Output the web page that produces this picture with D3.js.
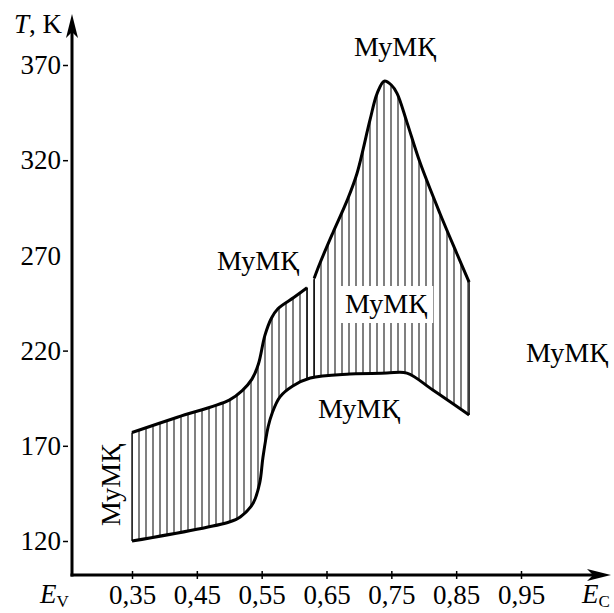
<!DOCTYPE html>
<html lang="ru">

<head>
    <meta charset="utf-8">
    <title>T(E)</title>
    <script src="https://d3js.org/d3.v7.min.js"></script>
    <style>
        body { margin: 0; background: #fff; }
        text { font-family: "Liberation Serif", "Times New Roman", serif; fill: #000; }
    </style>
</head>

<body>
    <div id="dataviz"></div>
    <script>

        // energy ticks (E) and temperature ticks (T, K)
        var eTicks = [0.35, 0.45, 0.55, 0.65, 0.75, 0.85, 0.95];
        var tTicks = [120, 170, 220, 270, 320, 370];

        // upper boundary, left part
        var upperLeftE = [0.35, 0.42, 0.50, 0.52, 0.535, 0.545, 0.555, 0.565, 0.575, 0.60, 0.62];
        var upperLeftT = [177, 185, 194, 199, 205, 213, 228, 237, 242, 248, 253];

        // upper boundary, right part (the peak)
        var upperRightE = [0.631, 0.64, 0.66, 0.682, 0.697, 0.717, 0.728, 0.739, 0.75, 0.759, 0.774, 0.794, 0.825, 0.851, 0.87];
        var upperRightT = [258, 266, 282, 299, 313, 341, 355, 361.5, 359.5, 355, 340, 319, 292, 271, 256];

        // lower boundary
        var lowerE = [0.35, 0.50, 0.517, 0.537, 0.547, 0.552, 0.56, 0.566, 0.578, 0.598, 0.625, 0.686, 0.743, 0.774, 0.814, 0.87];
        var lowerT = [120, 130, 132.6, 140, 150.5, 164, 180, 187, 195.6, 201.4, 205.6, 207.7, 208.2, 208.2, 199.3, 186.2];

        // the two inner edges where the upper curve breaks
        var breakE = [0.62, 0.631];
        var breakBottomT = [205.4, 205.9];

        var label = "МуМҚ";

        var width = 614, height = 613;

        var svg = d3.select("#dataviz")
            .append("svg")
            .attr("width", width)
            .attr("height", height);

        var x = d3.scaleLinear().domain([0.35, 0.95]).range([132, 521]);
        var y = d3.scaleLinear().domain([120, 370]).range([541, 65]);

        var zip = function (es, ts) { return es.map(function (e, i) { return [e, ts[i]]; }); };
        var upperLeft = zip(upperLeftE, upperLeftT);
        var upperRight = zip(upperRightE, upperRightT);
        var lower = zip(lowerE, lowerT);

        var line = d3.line()
            .x(function (d) { return x(d[0]); })
            .y(function (d) { return y(d[1]); })
            .curve(d3.curveCatmullRom.alpha(0.5));

        // hatch pattern
        var pat = svg.append("defs").append("pattern")
            .attr("id", "hatch")
            .attr("patternUnits", "userSpaceOnUse")
            .attr("width", 7).attr("height", 10)
            .attr("patternTransform", "translate(" + (x(0.35) - 0.5) + ",0)");
        pat.append("rect").attr("x", 0).attr("y", 0).attr("width", 1).attr("height", 10).attr("fill", "#000");

        var areaD = line(upperLeft.concat(upperRight)) +
            line(lower.slice().reverse()).replace(/^M/, "L") + "Z";
        svg.append("path")
            .attr("d", areaD)
            .attr("fill", "url(#hatch)")
            .attr("stroke", "none");

        // edges
        var edges = [
            [lower[0], upperLeft[0]],
            [lower[lower.length - 1], upperRight[upperRight.length - 1]],
            [[breakE[0], breakBottomT[0]], upperLeft[upperLeft.length - 1]],
            [[breakE[1], breakBottomT[1]], upperRight[0]]
        ];
        svg.selectAll("edgeLines")
            .data(edges)
            .enter()
            .append("line")
            .attr("x1", function (d) { return x(d[0][0]); })
            .attr("x2", function (d) { return x(d[1][0]); })
            .attr("y1", function (d) { return y(d[0][1]); })
            .attr("y2", function (d) { return y(d[1][1]); })
            .attr("stroke", "#000")
            .attr("stroke-width", 1.3);

        // boundary curves
        svg.selectAll("curves")
            .data([upperLeft, upperRight, lower])
            .enter()
            .append("path")
            .attr("d", function (d) { return line(d); })
            .attr("fill", "none")
            .attr("stroke", "#000")
            .attr("stroke-width", 3);

        // axes
        var fmt = d3.formatLocale({ decimal: ",", thousands: " ", grouping: [3], currency: ["", ""] }).format(".2f");

        var xAxis = svg.append("g")
            .attr("transform", "translate(0,575)")
            .call(d3.axisBottom(x).tickValues(eTicks).tickSize(4).tickPadding(6).tickFormat(fmt));
        xAxis.select(".domain").remove();
        xAxis.selectAll(".tick line").attr("y1", -4).attr("stroke-width", 1.5);
        xAxis.selectAll("text").attr("font-size", 27);

        var yAxis = svg.append("g")
            .attr("transform", "translate(68,0)")
            .call(d3.axisLeft(y).tickValues(tTicks).tickSize(5).tickPadding(2).tickFormat(d3.format("d")));
        yAxis.select(".domain").remove();
        yAxis.selectAll(".tick line").attr("stroke-width", 1.5)
            .filter(function (d) { return d === 270; }).remove();
        yAxis.selectAll("text").attr("font-size", 27);

        // axis lines with arrows
        svg.append("line").attr("x1", 72).attr("y1", 576.5).attr("x2", 72).attr("y2", 30)
            .attr("stroke", "#000").attr("stroke-width", 3);
        svg.append("line").attr("x1", 70.5).attr("y1", 575).attr("x2", 600).attr("y2", 575)
            .attr("stroke", "#000").attr("stroke-width", 3);
        svg.append("path").attr("d", "M72,14 L78,38 L72,32 L66,38 Z").attr("fill", "#000");
        svg.append("path").attr("d", "M611,575 L587,569 L593,575 L587,581 Z").attr("fill", "#000");

        // axis titles
        var tt = svg.append("text").attr("x", 62).attr("y", 33).attr("text-anchor", "end").attr("font-size", 27);
        tt.append("tspan").attr("font-style", "italic").text("T");
        tt.append("tspan").text(", K");

        var ev = svg.append("text").attr("x", 40).attr("y", 603).attr("font-size", 27);
        ev.append("tspan").attr("font-style", "italic").text("E");
        ev.append("tspan").attr("font-size", 17).attr("dy", 4).text("V");

        var ec = svg.append("text").attr("x", 582).attr("y", 603).attr("font-size", 27);
        ec.append("tspan").attr("font-style", "italic").text("E");
        ec.append("tspan").attr("font-size", 17).attr("dy", 4).text("C");

        // region labels
        var labelPos = [
            { x: 395, y: 56, rot: 0, box: false },
            { x: 258, y: 270, rot: 0, box: false },
            { x: 386, y: 313, rot: 0, box: true },
            { x: 359, y: 418, rot: 0, box: false },
            { x: 567, y: 362, rot: 0, box: false },
            { x: 120, y: 485, rot: -90, box: false }
        ];
        labelPos.forEach(function (p) {
            var g = svg.append("g").attr("transform", "translate(" + p.x + "," + p.y + ") rotate(" + p.rot + ")");
            var t = g.append("text").attr("text-anchor", "middle").attr("font-size", 28).text(label);
            if (p.box) {
                var b = t.node().getBBox();
                g.insert("rect", "text")
                    .attr("x", b.x - 6).attr("y", b.y - 2)
                    .attr("width", b.width + 12).attr("height", b.height + 6)
                    .attr("fill", "#fff");
            }
        });

    </script>
</body>

</html>
